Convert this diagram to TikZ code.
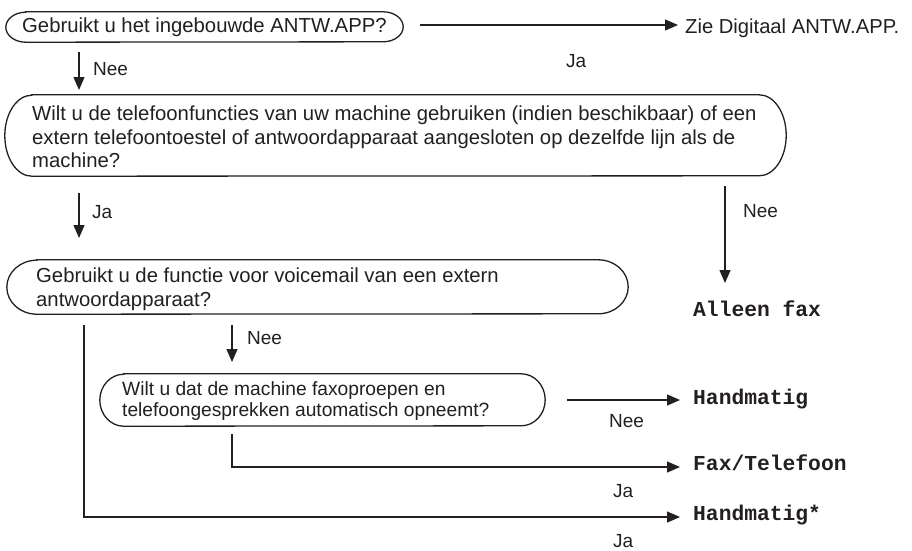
\documentclass[tikz,border=0pt]{standalone}
\usepackage{fontspec}
\setmainfont{Liberation Sans}
\newfontfamily\monofam{Liberation Mono}
\usetikzlibrary{arrows.meta,calc}
\definecolor{ink}{HTML}{231F20}
\newcommand\capsule[3]{%
  \draw[boxline] ($(#1.north west)+(#2pt,0pt)$) -- ($(#1.north east)+(-#2pt,0pt)$)
    arc[start angle=90,end angle=-90,x radius=#2pt,y radius=#3pt]
    -- ($(#1.south west)+(#2pt,0pt)$)
    arc[start angle=270,end angle=90,x radius=#2pt,y radius=#3pt] -- cycle;}
\begin{document}
\begin{tikzpicture}[x=1pt,y=-1pt,
  frame/.style={draw=none,inner sep=0pt,rectangle},
  boxline/.style={draw=ink,line width=1.3pt},
  txt/.style={inner sep=0pt,text=ink,align=left,font=\fontsize{20.3}{23.5}\selectfont},
  txtsmall/.style={inner sep=0pt,text=ink,align=left,font=\fontsize{19.2}{20.5}\selectfont},
  lab/.style={inner sep=0pt,text=ink,font=\fontsize{19}{22}\selectfont,anchor=base west},
  outc/.style={inner sep=0pt,text=ink,font=\monofam\bfseries\fontsize{21.3}{24}\selectfont,anchor=base west},
  arr/.style={draw=ink,line width=1.3pt,-{Triangle[length=13pt,width=11pt]}},
  ln/.style={draw=ink,line width=1.3pt}]
\useasboundingbox (0,0) rectangle (912,550);

% question boxes
\node[frame,minimum width=397pt,minimum height=30pt] (b1) at (204.5,27) {};
\capsule{b1}{20}{15}
\node[txt,anchor=west] (q1) at (22,27) {Gebruikt u het ingebouwde ANTW.APP?};

\node[frame,minimum width=781pt,minimum height=81pt] (b2) at (395.5,135.5) {};
\capsule{b2}{27}{40.5}
\node[txt,anchor=west] (q2) at (32,137) {Wilt u de telefoonfuncties van uw machine gebruiken (indien beschikbaar) of een\\extern telefoontoestel of antwoordapparaat aangesloten op dezelfde lijn als de\\machine?};

\node[frame,minimum width=621pt,minimum height=54pt] (b3) at (317.5,287) {};
\capsule{b3}{30}{27}
\node[txt,anchor=west] (q3) at (36,289) {Gebruikt u de functie voor voicemail van een extern\\antwoordapparaat?};

\node[frame,minimum width=445pt,minimum height=52pt] (b4) at (322.5,400) {};
\capsule{b4}{24}{26}
\node[txtsmall,anchor=west] (q4) at (122,401) {Wilt u dat de machine faxoproepen en\\telefoongesprekken automatisch opneemt?};

% outcomes
\node[inner sep=0pt,text=ink,font=\fontsize{20.2}{24}\selectfont,anchor=base west] (zie) at (685,33) {Zie Digitaal ANTW.APP.};
\node[outc] (fax) at (693,316.5) {Alleen fax};
\node[outc] (hand) at (693,404) {Handmatig};
\node[outc] (faxtel) at (693,470) {Fax/Telefoon};
\node[outc] (hand2) at (693,520.5) {Handmatig*};

% connector end points
\coordinate (s1) at (420,25);  \coordinate (e1) at (678,25);
\coordinate (s2) at (79,52);   \coordinate (e2) at (79,90);
\coordinate (s3) at (79,193);  \coordinate (e3) at (79,238);
\coordinate (s4) at (725,186); \coordinate (e4) at (725,283);
\coordinate (s5) at (232,325); \coordinate (e5) at (232,362);
\coordinate (s6) at (84,325);  \coordinate (e6) at (680,517);
\coordinate (s7) at (232,434); \coordinate (e7) at (680,467);
\coordinate (s8) at (567,400); \coordinate (e8) at (680,400);

\draw[arr] (s1) -- (e1);
\draw[arr] (s2) -- (e2);
\draw[arr] (s3) -- (e3);
\draw[arr] (s4) -- (e4);
\draw[arr] (s5) -- (e5);
\draw[arr] (s6) |- (e6);
\draw[arr] (s7) |- (e7);
\draw[arr] (s8) -- (e8);

% labels
\node[lab] (l1) at (566,67) {Ja};
\node[lab] (l2) at (93,75) {Nee};
\node[lab] (l3) at (92,218) {Ja};
\node[lab] (l4) at (743,217) {Nee};
\node[lab] (l5) at (247,344) {Nee};
\node[lab] (l6) at (609,427) {Nee};
\node[lab] (l7) at (613,497) {Ja};
\node[lab] (l8) at (613,547) {Ja};
\end{tikzpicture}
\end{document}
